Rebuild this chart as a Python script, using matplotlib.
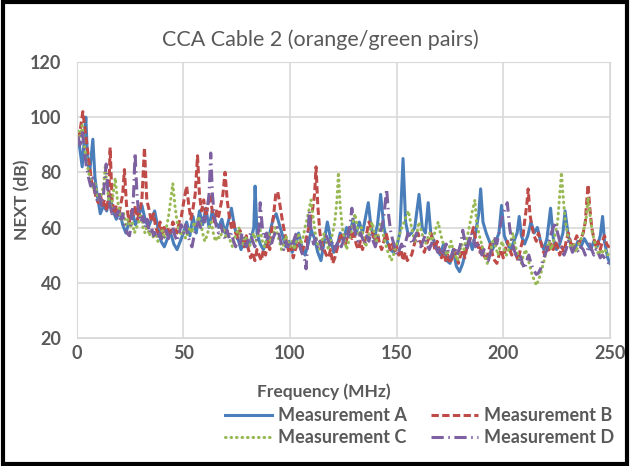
import matplotlib.pyplot as plt
import matplotlib.patches as patches
import numpy as np

# (frequency MHz, NEXT dB)
meas_a = [(0.5, 93), (1.5, 88), (2.5, 82), (3.5, 92), (4.2, 100), (5, 85), (6, 80), (7.5, 92), (8.5, 78),
          (9.5, 72), (11, 65), (12.5, 68), (14, 66), (15.5, 72), (17, 66), (18.5, 63), (20, 66), (21.5, 61),
          (23, 58), (24.5, 62), (26, 66), (27.5, 61), (29, 64), (30.5, 68), (32, 63), (33.5, 60), (35, 63),
          (36.5, 66), (38, 60), (39.5, 55), (41, 53), (42.5, 56), (44, 58), (45.5, 54), (47, 52), (48.5, 55),
          (50, 58), (51.5, 62), (53, 57), (54.5, 64), (56, 58), (57.5, 66), (59, 61), (60.5, 67), (62, 60),
          (63.5, 66), (65, 62), (66.5, 60), (68, 63), (69.5, 58), (71, 62), (72.5, 67), (74, 60), (75.5, 56),
          (77, 52), (78.5, 55), (80, 53), (81.5, 55), (83, 60), (83.6, 75), (84.5, 58), (86, 54), (87.5, 52),
          (89, 55), (90.5, 58), (92, 63), (93.5, 65), (95, 61), (96.5, 57), (98, 53), (99.5, 55), (101, 51),
          (102.5, 54), (104, 58), (105.5, 53), (107, 50), (108.5, 54), (110, 59), (111.5, 56), (113, 51),
          (114.5, 48), (116, 55), (117.5, 62), (119, 56), (120.5, 51), (122, 53), (123.5, 58), (125, 55),
          (126.5, 60), (128, 57), (129.5, 63), (131, 58), (132.5, 62), (134, 58), (135.5, 64), (136.7, 69),
          (138, 60), (139.5, 56), (141, 61), (142.5, 72), (144, 60), (145.5, 55), (147, 52), (148.5, 51),
          (150, 53), (151.5, 58), (153, 85), (154.2, 62), (155.5, 57), (157, 58), (158.5, 60), (160.5, 72),
          (162, 60), (163.5, 58), (164.8, 69), (166, 58), (167.5, 55), (169, 52), (170.5, 50), (172, 54),
          (173.5, 48), (175, 47), (176.5, 52), (178, 46), (179.5, 44), (181, 47), (182.5, 52), (184, 56),
          (185.5, 52), (187, 58), (188.5, 65), (189.4, 74), (190.5, 62), (192, 58), (193.5, 55), (195, 52),
          (196.5, 55), (198, 58), (199.2, 68), (200.5, 57), (202, 54), (203.5, 52), (205, 55), (206.5, 58),
          (207.5, 64), (208.5, 57), (210, 54), (211.5, 57), (213, 62), (214.5, 58), (216, 60), (217.5, 55),
          (219, 52), (220.5, 56), (222.2, 67), (223.5, 56), (225, 52), (226.5, 54), (228, 58), (229, 66),
          (230.5, 57), (232, 53), (233.5, 52), (235, 55), (236.5, 53), (238, 56), (239.5, 54), (241, 52),
          (242.5, 55), (244, 53), (245.5, 57), (246.6, 64), (247.5, 55), (249, 49), (250, 47)]

meas_b = [(0.5, 92), (1.5, 95), (2.8, 102), (3.8, 96), (5, 88), (6, 82), (7, 76), (8, 74), (9, 71), (10, 69),
          (11, 72), (12, 68), (13, 70), (14, 66), (15, 72), (15.6, 89), (16.5, 70), (17.5, 65), (18.5, 68),
          (19.5, 64), (20.5, 68), (21.5, 72), (22.3, 81), (23.3, 68), (24.5, 62), (25.5, 66), (26.5, 64),
          (27.5, 68), (28.5, 63), (29.5, 66), (30.5, 70), (31.7, 89), (32.8, 70), (34, 66), (35, 62), (36, 65),
          (37, 60), (38, 58), (39, 62), (40, 58), (41, 60), (42, 57), (43, 60), (44, 58), (45, 62), (46, 60),
          (47, 58), (48, 62), (49, 64), (50.5, 71), (51.5, 75), (52.5, 68), (53.5, 63), (54.5, 67), (55.5, 72),
          (56.6, 86), (57.5, 72), (58.5, 66), (59.5, 70), (60.5, 64), (61.5, 68), (62.5, 72), (63.5, 66),
          (64.5, 62), (65.5, 66), (66.5, 64), (67.5, 68), (68.5, 72), (69.5, 80), (70.5, 70), (71.5, 64),
          (72.5, 60), (73.5, 62), (74.5, 58), (75.5, 56), (76.5, 59), (77.5, 55), (78.5, 53), (79.5, 57),
          (80.5, 52), (81.5, 49), (82.5, 51), (83.5, 48), (84.5, 52), (85.5, 50), (86.5, 48), (87.5, 52),
          (88.5, 50), (89.5, 55), (90.5, 52), (91.5, 60), (92.5, 66), (93.3, 72), (94.2, 73), (95.3, 68),
          (96.5, 62), (97.5, 58), (98.5, 54), (99.5, 51), (100.5, 53), (101.5, 49), (102.5, 52), (104, 55),
          (105.5, 51), (107, 54), (108.5, 59), (109.5, 62), (110.5, 66), (111.5, 72), (112.2, 82), (113, 68),
          (114, 58), (115, 54), (116, 52), (117, 50), (118, 49), (119, 52), (120, 47), (121, 49), (122, 52),
          (123, 55), (124, 58), (125, 56), (126, 54), (127, 57), (128, 60), (129, 56), (130, 58), (131, 54),
          (132, 52), (133, 55), (134, 52), (135, 55), (136, 58), (137, 62), (138, 60), (139, 57), (140, 55),
          (141, 58), (142, 54), (143, 52), (144, 55), (145, 58), (146, 55), (147, 52), (148, 54), (149, 51),
          (150, 53), (151, 50), (152, 52), (153, 48), (154, 51), (155, 48), (156, 49), (157, 50), (158, 53),
          (159, 56), (160, 58), (161, 55), (162, 53), (163, 51), (164, 54), (165, 56), (166, 58), (167, 55),
          (168, 52), (169, 55), (170, 52), (171, 49), (172, 51), (173, 48), (174, 50), (175, 47), (176, 49),
          (177, 52), (178, 50), (179, 47), (180, 50), (181, 52), (182, 49), (183, 53), (184, 55), (185, 57),
          (186, 60), (187, 56), (188, 54), (189, 51), (190, 53), (191, 50), (192, 48), (193, 51), (194, 54),
          (195, 50), (196, 48), (197, 47), (198, 50), (199, 52), (200, 49), (201, 52), (202, 55), (203, 52),
          (204, 50), (205, 53), (206, 50), (207, 48), (208, 52), (209, 55), (210, 62), (211, 68), (211.7, 74),
          (212.5, 65), (213.5, 60), (214.5, 57), (215.5, 55), (216.5, 58), (217.5, 55), (218.5, 52),
          (219.5, 50), (220.5, 53), (221.5, 51), (222.5, 54), (223.5, 52), (224.5, 55), (225.5, 53),
          (226.5, 50), (227.5, 53), (228.5, 51), (229.5, 55), (230.5, 58), (231.5, 55), (232.5, 52),
          (233.5, 55), (234.5, 57), (235.5, 54), (236.5, 56), (237.5, 58), (238.5, 62), (239.2, 70),
          (239.8, 75.5), (240.5, 68), (241.5, 60), (242.5, 56), (243.5, 53), (244.5, 55), (245.5, 52),
          (246.5, 55), (247.5, 57), (248.5, 54), (249.5, 53), (250, 52)]

meas_c = [(0.5, 95), (1.5, 93), (2.5, 97), (3.5, 90), (4.5, 84), (5.5, 80), (6.5, 77), (7.5, 74), (8.5, 76),
          (9.5, 72), (10.5, 70), (11.5, 72), (12.5, 75), (13.3, 82), (14, 76), (15, 70), (16, 67), (17, 72),
          (18, 78), (19, 70), (20, 66), (21, 63), (22, 65), (23, 61), (24, 63), (25, 60), (26, 62), (27, 58),
          (28, 60), (29, 62), (30, 65), (31, 60), (32, 58), (33, 61), (34, 57), (35, 59), (36, 56), (37, 58),
          (38, 55), (39, 57), (40, 59), (41, 56), (42, 60), (43, 64), (44, 70), (45, 76), (46, 68), (47, 62),
          (48, 59), (49, 57), (50, 59), (51, 56), (52, 58), (53, 60), (54, 58), (55, 62), (56, 60), (57, 64),
          (58, 62), (59, 58), (60, 55), (61, 57), (62, 60), (63, 62), (64, 58), (65, 55), (66, 57), (67, 56),
          (68, 58), (69, 60), (70, 56), (71, 58), (72, 55), (73, 53), (74, 56), (75, 58), (76, 60), (77, 56),
          (78, 54), (79, 57), (80, 55), (81, 53), (82, 56), (83, 58), (84, 55), (85, 57), (86, 59), (87, 55),
          (88, 53), (89, 56), (90, 58), (91, 54), (92, 56), (93, 60), (94, 58), (95, 55), (96, 52), (97, 54),
          (98, 57), (99, 55), (100, 53), (101, 55), (102, 52), (103, 55), (104, 58), (105, 54), (106, 56),
          (107, 60), (108, 63), (109, 67), (109.8, 70), (110.8, 64), (111.8, 58), (113, 54), (114, 52),
          (115, 55), (116, 58), (117, 55), (118, 52), (119, 55), (120, 58), (121, 62), (122, 70), (122.7, 80),
          (123.5, 68), (124.5, 60), (125.5, 56), (126.5, 52), (127.5, 55), (128.5, 58), (129.5, 62),
          (130.5, 65), (131.5, 60), (132.5, 57), (133.5, 60), (134.5, 56), (135.5, 53), (136.5, 56),
          (137.5, 59), (138.5, 62), (139.5, 58), (140.5, 55), (141.5, 58), (142.5, 62), (143.5, 58),
          (144.5, 55), (145.5, 52), (146.5, 50), (147.5, 48), (148.5, 50), (149.5, 53), (150.5, 55),
          (151.5, 58), (152.5, 60), (153.5, 62), (154.5, 64), (155.5, 66), (156.5, 62), (157.5, 58),
          (158.5, 55), (159.5, 58), (160.5, 62), (161.5, 59), (162.5, 56), (163.5, 54), (164.5, 56),
          (165.5, 58), (166.5, 55), (167.5, 57), (168.5, 60), (169.5, 62), (170.5, 58), (171.5, 55),
          (172.5, 53), (173.5, 50), (174.5, 52), (175.5, 55), (176.5, 52), (177.5, 50), (178.5, 48),
          (179.5, 51), (180.5, 54), (181.5, 52), (182.5, 55), (183.5, 58), (184.5, 62), (185.5, 66),
          (186.7, 70), (187.5, 62), (188.5, 58), (189.5, 55), (190.5, 52), (191.5, 49), (192.5, 47),
          (193.5, 50), (194.5, 53), (195.5, 56), (196.5, 53), (197.5, 50), (198.5, 53), (199.5, 55),
          (200.5, 52), (201.5, 50), (202.5, 52), (203.5, 55), (204.5, 58), (205.5, 54), (206.5, 51),
          (207.5, 49), (208.5, 47), (209.5, 50), (210.5, 52), (211.5, 49), (212.5, 46), (213.5, 43),
          (214.5, 41), (215.6, 39), (216.5, 41), (217.5, 43), (218.5, 46), (219.5, 49), (220.5, 52),
          (221.5, 55), (222.5, 52), (223.5, 55), (224.5, 58), (225.5, 62), (226.3, 70), (227.3, 80), (228, 72),
          (229, 63), (230, 58), (231, 55), (232, 52), (233, 54), (234, 51), (235, 53), (236, 55), (237, 57),
          (238, 60), (239, 64), (239.8, 71), (240.8, 64), (241.8, 58), (242.8, 55), (243.8, 52), (244.8, 50),
          (245.8, 52), (246.8, 51), (247.8, 52), (249, 50), (250, 51)]

meas_d = [(0.5, 93), (1.5, 90), (2.5, 95), (3.5, 88), (4.5, 82), (5.5, 78), (6.5, 75), (7.5, 78), (8.5, 73),
          (9.5, 70), (10.5, 72), (11.5, 68), (12.5, 72), (13.75, 83), (14.5, 74), (15.5, 68), (16.5, 65),
          (17.5, 67), (18.5, 64), (19.5, 66), (20.5, 62), (21.5, 65), (22.5, 60), (23.5, 58), (24.7, 57),
          (25.5, 62), (26.5, 70), (27.3, 87), (28.2, 72), (29, 65), (30, 62), (31, 64), (32, 60), (33, 63),
          (34, 58), (35, 60), (36, 57), (37, 59), (38, 56), (39, 58), (40, 55), (41, 57), (42, 59), (43, 56),
          (44, 58), (45, 60), (46, 57), (47, 55), (48, 58), (49, 61), (50, 58), (51, 61), (52, 57), (53, 55),
          (54, 53), (55, 57), (56, 60), (57, 62), (58, 60), (59, 64), (60, 62), (61, 66), (62, 72), (62.8, 87),
          (63.6, 72), (64.5, 64), (65.5, 60), (66.5, 58), (67.5, 61), (68.5, 58), (69.5, 56), (70.5, 59),
          (71.5, 56), (72.5, 58), (73.5, 55), (74.5, 53), (75.5, 56), (76.5, 54), (77.5, 58), (78.5, 55),
          (79.5, 53), (80.5, 56), (81.5, 58), (82.5, 55), (83.5, 53), (84.5, 56), (85.5, 60), (86, 69),
          (87, 60), (88, 56), (89, 58), (90, 55), (91, 53), (92, 56), (93, 58), (94, 60), (95, 57), (96, 54),
          (97, 52), (98, 55), (99, 53), (100, 55), (101, 53), (102, 56), (103, 58), (104, 55), (105, 52),
          (106, 50), (107, 48), (107.5, 45), (108.5, 58), (109, 66), (110, 58), (111, 54), (112, 56),
          (113, 53), (114, 55), (115, 52), (116, 54), (117, 57), (118, 55), (119, 53), (120, 55), (121, 52),
          (122, 54), (123, 56), (124, 53), (125, 55), (126, 58), (127, 56), (128, 60), (129, 67), (130, 60),
          (131, 57), (132, 55), (133, 58), (134, 56), (135, 54), (136, 57), (137, 55), (138, 58), (139, 55),
          (140, 53), (141, 56), (142, 58), (143, 60), (144, 64), (145.3, 74), (146.3, 64), (147.3, 58),
          (148.3, 55), (149.3, 52), (150.3, 50), (151.3, 52), (152.3, 54), (153.3, 52), (154.3, 55),
          (155.3, 58), (156.3, 56), (157.3, 54), (158.3, 56), (159.3, 58), (160.3, 55), (161.3, 53),
          (162.3, 55), (163.3, 57), (164.3, 54), (165.3, 52), (166.3, 54), (167.3, 56), (168.3, 53),
          (169.3, 51), (170.3, 53), (171.3, 50), (172.3, 52), (173.3, 54), (174.3, 51), (175.3, 49),
          (176.3, 51), (177.3, 53), (178.3, 50), (179.3, 52), (180.3, 55), (181, 59), (182, 55), (183, 52),
          (184, 55), (185, 58), (186, 56), (187, 53), (188, 55), (189, 52), (190, 50), (191, 52), (192, 50),
          (193, 48), (194, 51), (195, 53), (196, 56), (197, 54), (198, 58), (199, 62), (200, 65), (201.9, 69),
          (203, 60), (204, 55), (205, 52), (206, 50), (207, 48), (208, 50), (209, 47), (210, 45), (211, 48),
          (212, 50), (213, 47), (214, 45), (215.5, 43), (216.4, 43.4), (217.5, 45), (218.5, 48), (219.5, 50),
          (220.5, 52), (221.5, 55), (222.5, 58), (223.5, 60), (224.5, 62), (225.5, 58), (226.5, 55),
          (227.5, 52), (228.5, 50), (229.5, 52), (230.5, 55), (231.5, 53), (232.5, 51), (233.5, 53),
          (234.5, 52), (235.5, 51), (236.5, 53), (237.5, 52), (238.5, 50), (239.5, 52), (240.5, 54),
          (241.5, 52), (242.5, 50), (243.5, 52), (244.5, 51), (245.5, 49), (246.5, 50), (247.5, 49),
          (248.5, 48), (249.5, 47), (250, 48)]

x_ticks = [0, 50, 100, 150, 200, 250]
y_ticks = [20, 40, 60, 80, 100, 120]

plt.rcParams['font.family'] = ['Lato', 'DejaVu Sans']
text_gray = '#595959'

fig = plt.figure(figsize=(6.3, 4.66), dpi=100)
ax = fig.add_axes([0.122, 0.275, 0.846, 0.592])

series = [
    (meas_a, 'Measurement A', '#4A7EBB', '-'),
    (meas_b, 'Measurement B', '#BE4B48', (0, (2.4, 1.1))),
    (meas_c, 'Measurement C', '#98B954', (0, (0.2, 1.6))),
    (meas_d, 'Measurement D', '#7D60A0', (0, (4, 1.5, 0.5, 1.5))),
]
lines = {}
for data, label, color, ls in series:
    arr = np.array(data)
    lines[label], = ax.plot(arr[:, 0], arr[:, 1], color=color, linestyle=ls, linewidth=2.2, label=label,
                            dash_capstyle='round' if label.endswith('C') else 'butt')

ax.set_xlim(0, 250)
ax.set_ylim(20, 120)
ax.set_xticks(x_ticks)
ax.set_yticks(y_ticks)
ax.grid(True, color='#D9D9D9', linewidth=1.2)
ax.set_axisbelow(True)
for s in ax.spines.values():
    s.set_color('#D9D9D9')
ax.tick_params(axis='x', length=0, labelsize=13, labelcolor=text_gray, pad=5)
ax.tick_params(axis='y', length=0, labelsize=13, labelcolor=text_gray, pad=11)
for lbl in ax.get_xticklabels() + ax.get_yticklabels():
    lbl.set_fontweight('bold')

fig.text(0.508, 1 - 40 / 466, 'CCA Cable 2 (orange/green pairs)', fontsize=15.5, color=text_gray,
         ha='center', va='center')
fig.text(324 / 630, 1 - 392 / 466, 'Frequency (MHz)', fontsize=12.5, fontweight='bold', color=text_gray,
         ha='center', va='center')
fig.text(22 / 630, 1 - 200 / 466, 'NEXT (dB)', fontsize=12.5, fontweight='bold', color=text_gray,
         ha='center', va='center', rotation=90)

order = ['Measurement A', 'Measurement C', 'Measurement B', 'Measurement D']
leg = fig.legend([lines[k] for k in order], order, loc='upper left',
                 bbox_to_anchor=(225 / 630, 1 - 407 / 466), ncol=2, frameon=False,
                 fontsize=13, handlelength=2.6, columnspacing=1.3, labelspacing=0.3,
                 handletextpad=0.35, borderpad=0, borderaxespad=0)
for t in leg.get_texts():
    t.set_color(text_gray)
    t.set_fontweight('bold')

fig.patches.append(patches.Rectangle((0.004, 0.005), 0.991, 0.99, transform=fig.transFigure,
                                     fill=False, edgecolor='black', linewidth=3))

fig.savefig('out.png', dpi=100)
